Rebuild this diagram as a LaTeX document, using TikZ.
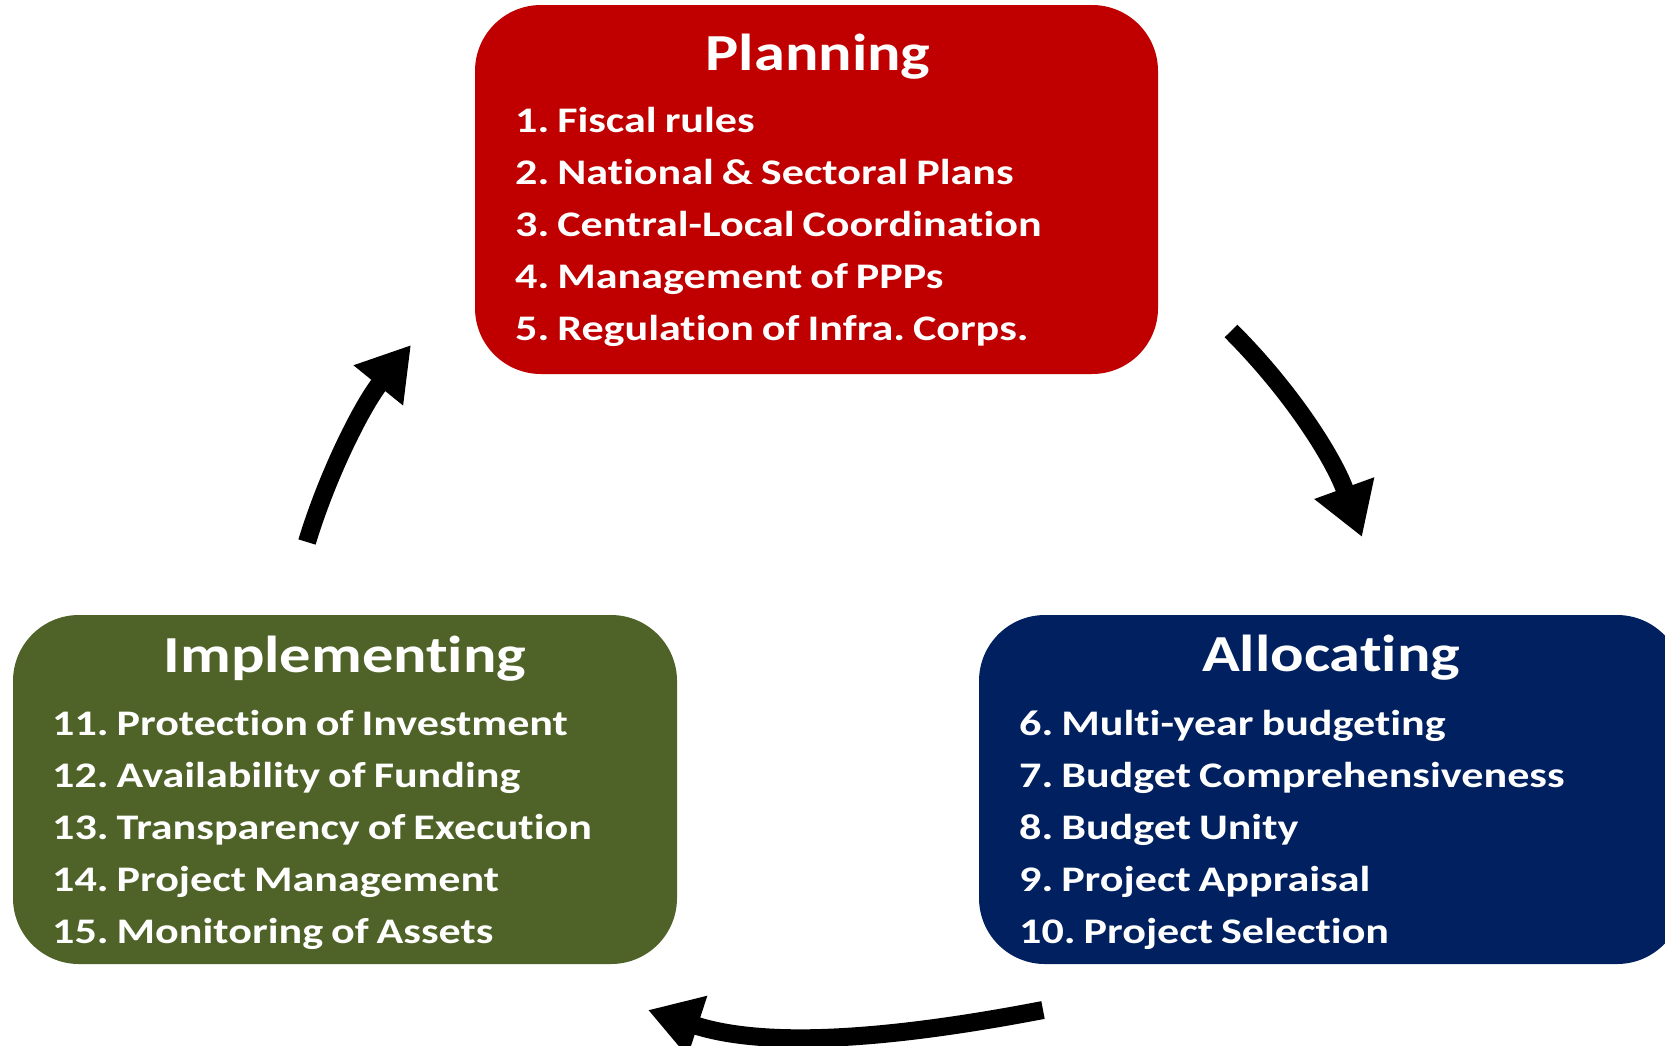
\documentclass[tikz,border=0pt]{standalone}
\usepackage{fontspec}
\setmainfont{Carlito}[FakeStretch=1.2, RawFeature={-liga;-clig;-dlig}]
\newfontfamily\itemfont{Carlito}[FakeStretch=1.225, WordSpace=0.8, RawFeature={-liga;-clig;-dlig}]
\usetikzlibrary{arrows.meta}
\definecolor{planred}{HTML}{C00000}
\definecolor{implgreen}{HTML}{4F6228}
\definecolor{allocblue}{HTML}{002060}
\tikzset{
  box/.style={rectangle, rounded corners=66pt, inner sep=0pt, outer sep=0pt, draw=none},
  titletext/.style={text=white, anchor=base, inner sep=0pt, font=\fontsize{52}{56}\selectfont\bfseries\frenchspacing},
  itemtext/.style={text=white, anchor=base west, inner sep=0pt, font=\itemfont\fontsize{36}{40}\selectfont\bfseries\frenchspacing},
  cyclearrow/.style={line width=18pt, -{Triangle[width=60pt,length=52pt]}}
}
\begin{document}
\begin{tikzpicture}[x=1pt,y=-1pt]
\clip (0,0) rectangle (1665,1045);
\fill[white] (0,0) rectangle (1665,1045);
% boxes
\node[box, fill=planred, minimum width=683pt, minimum height=369pt] (planbox) at (816.5,189.5) {};
\node[box, fill=implgreen, minimum width=664pt, minimum height=349pt] (implbox) at (345,789.5) {};
\node[box, fill=allocblue, minimum width=704pt, minimum height=349pt] (allocbox) at (1331,789.5) {};
% titles
\node[titletext] (plantitle) at (818,70) {Planning};
\node[titletext] (impltitle) at (345,672) {Implementing};
\node[titletext] (alloctitle) at (1331,671) {Allocating};
% planning items
\node[itemtext] (p1) at (515,132) {1. Fiscal rules};
\node[itemtext] (p2) at (515,184) {2. National \& Sectoral Plans};
\node[itemtext] (p3) at (515,236) {3. Central-Local Coordination};
\node[itemtext] (p4) at (515,288) {4. Management of PPPs};
\node[itemtext] (p5) at (515,340) {5. Regulation of Infra. Corps.};
% allocating items
\node[itemtext] (a6) at (1019,735) {6. Multi-year budgeting};
\node[itemtext] (a7) at (1019,787) {7. Budget Comprehensiveness};
\node[itemtext] (a8) at (1019,839) {8. Budget Unity};
\node[itemtext] (a9) at (1019,891) {9. Project Appraisal};
\node[itemtext] (a10) at (1019,943) {10. Project Selection};
% implementing items
\node[itemtext] (i11) at (52,735) {11. Protection of Investment};
\node[itemtext] (i12) at (52,787) {12. Availability of Funding};
\node[itemtext] (i13) at (52,839) {13. Transparency of Execution};
\node[itemtext] (i14) at (52,891) {14. Project Management};
\node[itemtext] (i15) at (52,943) {15. Monitoring of Assets};
% arrow end points
\coordinate (pa) at (1231,331);
\coordinate (pb) at (1362,537);
\coordinate (aa) at (1043,1010);
\coordinate (ab) at (648,1010);
\coordinate (ia) at (307,542);
\coordinate (ib) at (411,345);
% arrows
\draw[cyclearrow] (pa) .. controls (1291,391) and (1333,457) .. (pb);
\draw[cyclearrow] (aa) .. controls (913,1035) and (774,1051) .. (ab);
\draw[cyclearrow] (ia) .. controls (329,470) and (364,403) .. (ib);
\end{tikzpicture}
\end{document}
